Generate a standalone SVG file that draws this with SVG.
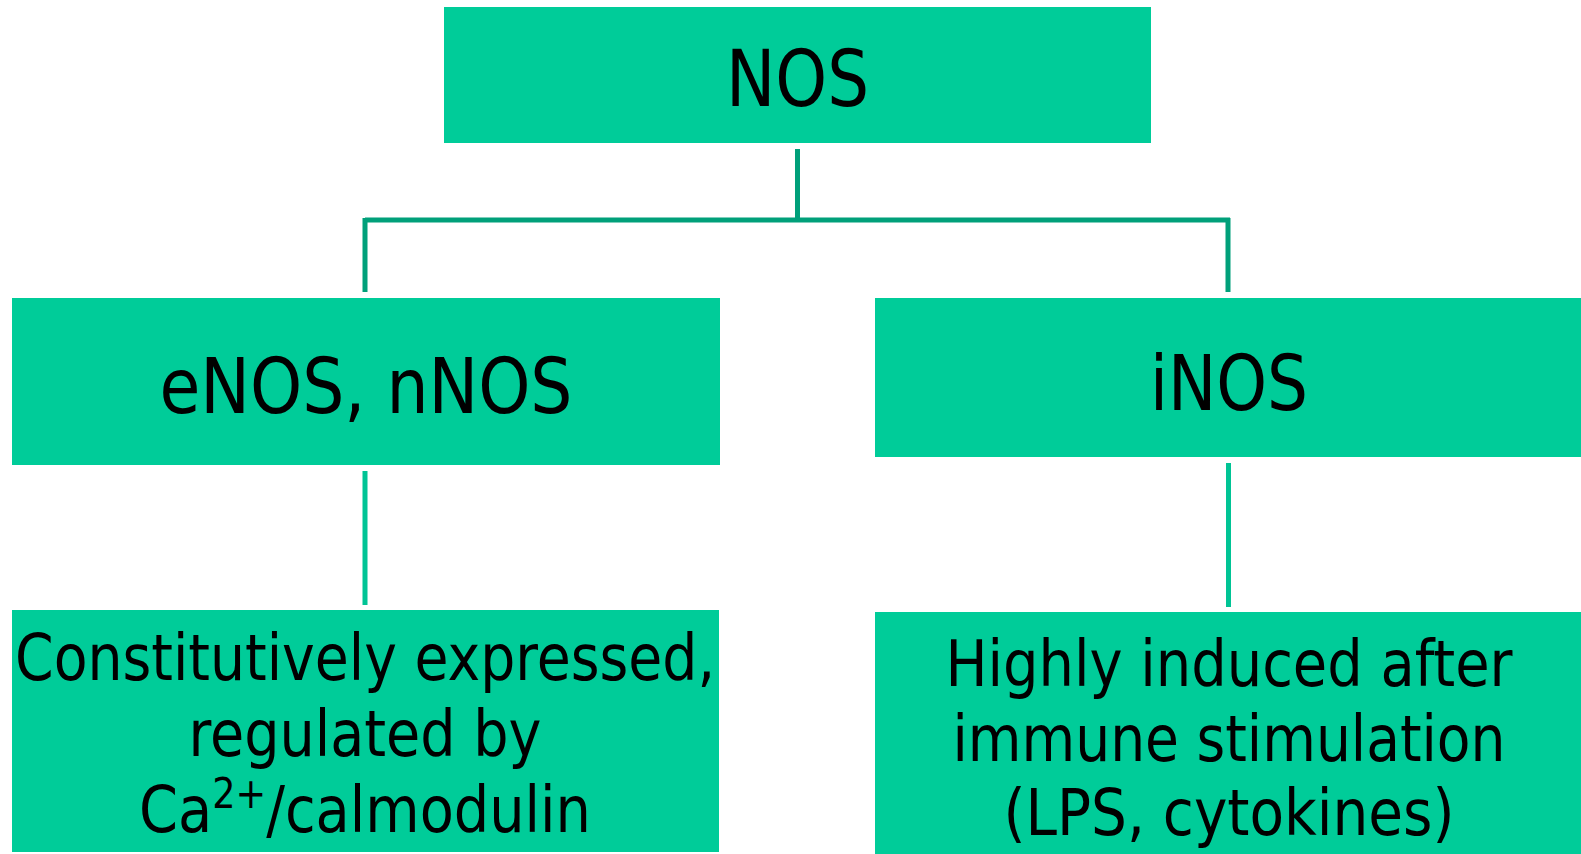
<svg xmlns="http://www.w3.org/2000/svg" width="1581" height="854" viewBox="0 0 1581 854">
<style>
.box{fill:#00cc99;}
.t{font-family:"DejaVu Sans Condensed","DejaVu Sans",sans-serif;fill:#000;text-anchor:middle;}
.big{font-size:78px;}
.mid{font-size:76px;}
.small{font-size:64px;}
.c1{stroke:#00a07a;stroke-width:5;fill:none;}
.c2{stroke:#00c495;stroke-width:5;fill:none;}
</style>
<rect width="1581" height="854" fill="#ffffff"/>
<g id="connectors">
<path class="c1" d="M797.5 149 V220 M365 220 H1230 M365 218 V292 M1228 218 V292"/>
<path class="c2" d="M365 471 V605 M1228.5 463 V607"/>
</g>
<g id="nos">
<rect class="box" x="444" y="7" width="707" height="136"/>
<text class="t big" x="797.5" y="106" textLength="143" lengthAdjust="spacingAndGlyphs">NOS</text>
</g>
<g id="enos">
<rect class="box" x="12" y="298" width="708" height="167"/>
<text class="t mid" x="366" y="413" textLength="413" lengthAdjust="spacingAndGlyphs">eNOS, nNOS</text>
</g>
<g id="inos">
<rect class="box" x="875" y="298" width="706" height="159"/>
<text class="t mid" x="1229" y="410" textLength="158" lengthAdjust="spacingAndGlyphs">iNOS</text>
</g>
<g id="constitutive">
<rect class="box" x="12" y="610" width="707" height="242"/>
<text class="t small" x="365" y="680" textLength="700" lengthAdjust="spacingAndGlyphs">Constitutively expressed,</text>
<text class="t small" x="365" y="756" textLength="353" lengthAdjust="spacingAndGlyphs">regulated by</text>
<text class="t small" x="365" y="832" textLength="452" lengthAdjust="spacingAndGlyphs">Ca<tspan font-size="42" dy="-24">2+</tspan><tspan dy="24">/calmodulin</tspan></text>
</g>
<g id="induced">
<rect class="box" x="875" y="612" width="706" height="242"/>
<text class="t small" x="1229" y="686" textLength="567" lengthAdjust="spacingAndGlyphs">Highly induced after</text>
<text class="t small" x="1229" y="761" textLength="553" lengthAdjust="spacingAndGlyphs">immune stimulation</text>
<text class="t small" x="1229" y="835" textLength="451" lengthAdjust="spacingAndGlyphs">(LPS, cytokines)</text>
</g>
</svg>
